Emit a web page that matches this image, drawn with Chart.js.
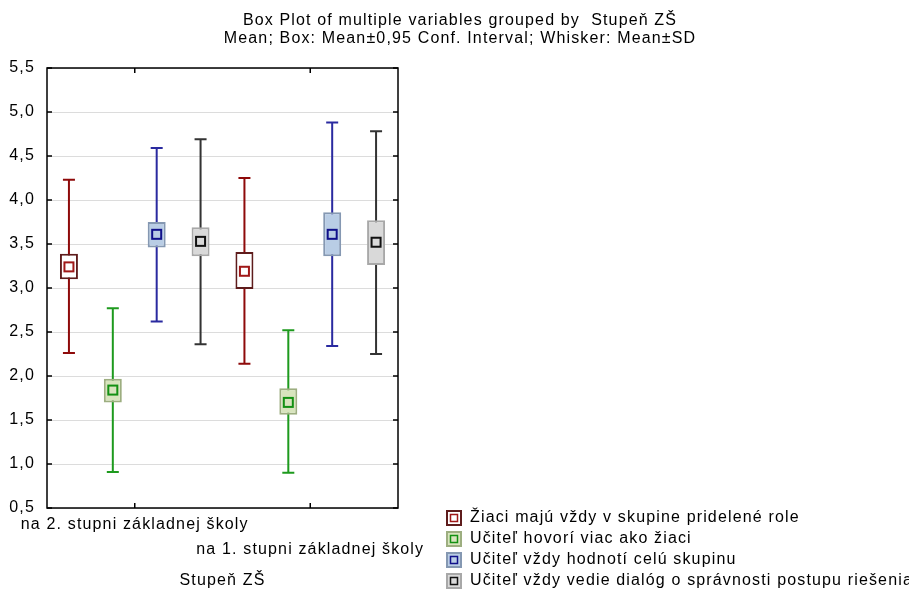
<!DOCTYPE html>
<html>
<head>
<meta charset="utf-8">
<script src="https://cdn.jsdelivr.net/npm/chart.js@4/dist/chart.umd.min.js"></script>
<style>
  body { margin: 0; background: #fff; }
  #wrap { width: 909px; height: 590px; }
</style>
</head>
<body>
<div id="wrap"><canvas id="graf"></canvas></div>
<script>
// kategorie na osi x (dva stupne ZS)
var kategorie = ['na 2. stupni základnej školy', 'na 1. stupni základnej školy'];
var nazvySerii = [
    'Žiaci majú vždy v skupine pridelené role',
    'Učiteľ hovorí viac ako žiaci',
    'Učiteľ vždy hodnotí celú skupinu',
    'Učiteľ vždy vedie dialóg o správnosti postupu riešenia'
];
var nadpis = ['Box Plot of multiple variables grouped by  Stupeň ZŠ',
              'Mean; Box: Mean±0,95 Conf. Interval; Whisker: Mean±SD'];

// priemery
var priemerRole = [3.24, 3.19];
var priemerHovori = [1.84, 1.70];
var priemerHodnoti = [3.61, 3.61];
var priemerDialog = [3.53, 3.52];

// box: priemer +- 0,95 interval spolahlivosti
var intervalRole = [[3.10, 3.39], [2.99, 3.41]];
var intervalHovori = [[1.70, 1.97], [1.56, 1.86]];
var intervalHodnoti = [[3.46, 3.75], [3.36, 3.86]];
var intervalDialog = [[3.36, 3.69], [3.26, 3.77]];

// fuzy: priemer +- SD
var sdRole = [[2.26, 4.23], [2.14, 4.25]];
var sdHovori = [[0.91, 2.77], [0.90, 2.52]];
var sdHodnoti = [[2.62, 4.59], [2.34, 4.88]];
var sdDialog = [[2.36, 4.69], [2.25, 4.78]];

// osa y
var osYMin = 0.5;
var osYMax = 5.5;
var osYKrok = 0.5;

var priemery = [priemerRole, priemerHovori, priemerHodnoti, priemerDialog];
var intervaly = [intervalRole, intervalHovori, intervalHodnoti, intervalDialog];
var odchylky = [sdRole, sdHovori, sdHodnoti, sdDialog];

// farby: fuz, okraj boxu, vypln boxu, znacka priemeru
var farbyFuz = ['#8e0a0a', '#1e9a1e', '#2a2aa0', '#333333'];
var farbyOkraj = ['#5e1c1c', '#9dae80', '#8598b2', '#a8a8a8'];
var farbyVypln = ['#ffffff', '#d8e4bd', '#b9cde5', '#d9d9d9'];
var farbyPriemer = ['#a01818', '#139013', '#10108a', '#111111'];

var pismo = "'Liberation Sans', Arial, sans-serif";
var rozostup = '1.15px';

Chart.defaults.font.family = pismo;
Chart.defaults.font.size = 16;
Chart.defaults.color = '#000';

var datasety = [];
for (var i = 0; i < nazvySerii.length; i++) {
    datasety.push({
        label: nazvySerii[i],
        data: intervaly[i],
        backgroundColor: farbyVypln[i],
        borderColor: farbyOkraj[i],
        borderWidth: 2,
        borderSkipped: false,
        categoryPercentage: 1.0,
        barPercentage: 0.41
    });
}

// sirsie pismo ako v povodnom obrazku
var rozostupPlugin = {
    id: 'rozostup',
    beforeUpdate: function (chart) { chart.ctx.letterSpacing = rozostup; },
    beforeDraw: function (chart) { chart.ctx.letterSpacing = rozostup; }
};

// fuzy sa kreslia pod boxy, priemery nad ne
var boxPlotPlugin = {
    id: 'boxPlot',
    beforeDatasetsDraw: function (chart) {
        var ctx = chart.ctx;
        var y = chart.scales.y;
        ctx.save();
        for (var i = 0; i < chart.data.datasets.length; i++) {
            var meta = chart.getDatasetMeta(i);
            for (var j = 0; j < meta.data.length; j++) {
                var x = meta.data[j].x;
                var yLo = y.getPixelForValue(odchylky[i][j][0]);
                var yHi = y.getPixelForValue(odchylky[i][j][1]);
                ctx.strokeStyle = farbyFuz[i];
                ctx.lineWidth = 2;
                ctx.beginPath();
                ctx.moveTo(x, yLo);
                ctx.lineTo(x, yHi);
                ctx.moveTo(x - 6, yLo);
                ctx.lineTo(x + 6, yLo);
                ctx.moveTo(x - 6, yHi);
                ctx.lineTo(x + 6, yHi);
                ctx.stroke();
            }
        }
        ctx.restore();
    },
    afterDatasetsDraw: function (chart) {
        var ctx = chart.ctx;
        var y = chart.scales.y;
        ctx.save();
        for (var i = 0; i < chart.data.datasets.length; i++) {
            var meta = chart.getDatasetMeta(i);
            for (var j = 0; j < meta.data.length; j++) {
                var x = meta.data[j].x;
                var ym = y.getPixelForValue(priemery[i][j]);
                ctx.strokeStyle = farbyPriemer[i];
                ctx.lineWidth = 2;
                ctx.strokeRect(x - 4.5, ym - 4.5, 9, 9);
            }
        }
        ctx.restore();
    },
    afterDraw: function (chart) {
        var ctx = chart.ctx;
        var a = chart.chartArea;
        var x = chart.scales.x;
        var y = chart.scales.y;
        ctx.save();
        // ramcek grafu s ciarkami dovnutra
        ctx.strokeStyle = '#000';
        ctx.lineWidth = 1.5;
        ctx.strokeRect(a.left, a.top, a.right - a.left, a.bottom - a.top);
        ctx.beginPath();
        y.ticks.forEach(function (t) {
            var py = y.getPixelForValue(t.value);
            ctx.moveTo(a.left, py);
            ctx.lineTo(a.left + 5, py);
            ctx.moveTo(a.right, py);
            ctx.lineTo(a.right - 5, py);
        });
        for (var k = 0; k < kategorie.length; k++) {
            var px = x.getPixelForValue(k);
            ctx.moveTo(px, a.bottom);
            ctx.lineTo(px, a.bottom - 5);
            ctx.moveTo(px, a.top);
            ctx.lineTo(px, a.top + 5);
        }
        ctx.stroke();

        ctx.font = '16px ' + pismo;
        ctx.letterSpacing = rozostup;
        ctx.fillStyle = '#000';
        ctx.textBaseline = 'middle';

        // nadpis nad grafom
        ctx.textAlign = 'center';
        ctx.fillText(nadpis[0], 460, 21);
        ctx.fillText(nadpis[1], 460, 39);

        // legenda
        ctx.textAlign = 'left';
        var riadky = [518, 539, 560, 581];
        for (var i = 0; i < nazvySerii.length; i++) {
            var ry = riadky[i];
            ctx.fillStyle = farbyVypln[i];
            ctx.fillRect(447, ry - 7, 14, 14);
            ctx.strokeStyle = farbyOkraj[i];
            ctx.lineWidth = 2;
            ctx.strokeRect(447, ry - 7, 14, 14);
            ctx.strokeStyle = farbyPriemer[i];
            ctx.lineWidth = 1.5;
            ctx.strokeRect(450.5, ry - 3.5, 7, 7);
            ctx.fillStyle = '#000';
            ctx.fillText(nazvySerii[i], 470, ry);
        }
        ctx.restore();
    }
};

var graf = new Chart(document.getElementById('graf'), {
    type: 'bar',
    data: {
        labels: [[kategorie[0]], ['', kategorie[1]]],
        datasets: datasety
    },
    options: {
        responsive: true,
        maintainAspectRatio: false,
        animation: false,
        layout: { padding: { left: 0, right: 511, top: 68, bottom: 0 } },
        plugins: {
            legend: { display: false },
            tooltip: { enabled: false },
            title: { display: false }
        },
        scales: {
            x: {
                grid: { display: false, drawTicks: false },
                border: { display: false },
                ticks: {
                    maxRotation: 0,
                    autoSkip: false,
                    padding: 4,
                    font: { size: 16, lineHeight: 1.56 }
                },
                title: {
                    display: true,
                    text: 'Stupeň ZŠ',
                    font: { size: 16 },
                    padding: { top: 4, bottom: 0 }
                },
                afterFit: function (s) { s.height = 82; }
            },
            y: {
                min: osYMin,
                max: osYMax,
                grid: { color: '#dcdcdc', drawTicks: false },
                border: { display: false },
                ticks: {
                    stepSize: osYKrok,
                    padding: 12,
                    callback: function (v) { return v.toFixed(1).replace('.', ','); }
                },
                afterFit: function (s) { s.width = 47; }
            }
        }
    },
    plugins: [rozostupPlugin, boxPlotPlugin]
});
</script>
</body>
</html>
